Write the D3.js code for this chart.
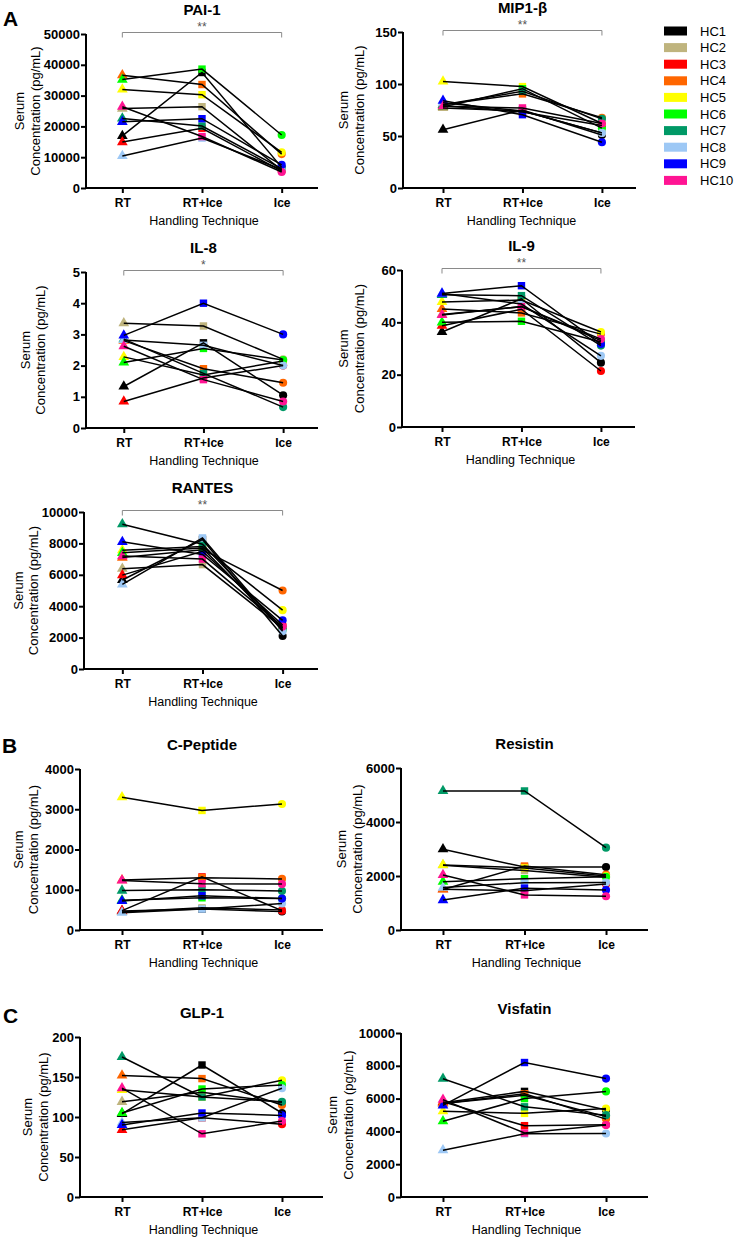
<!DOCTYPE html>
<html><head><meta charset="utf-8">
<script src="https://cdn.jsdelivr.net/npm/d3@7"></script>
<style>body{margin:0;background:#fff}svg{display:block}</style>
</head><body>
<svg id="chart" width="735" height="1240"></svg>
<script>
// ---------- data ----------
const subjects = ["HC1","HC2","HC3","HC4","HC5","HC6","HC7","HC8","HC9","HC10"];
const subjectColors = ["#000000","#BFB47E","#FF0000","#FF6600","#FFFF00","#00FF00","#009966","#9DC8F5","#0000FF","#FF1493"];
const conditions = ["RT","RT+Ice","Ice"];

const pai1RT    = [16900,25800,14900,36600,32000,35200,22600,10400,21500,26400];
const pai1RTIce = [37500,26400,19400,33600,30300,38600,20100,16200,22500,16700];
const pai1Ice   = [6700,5800,5500,11000,11600,17200,6300,6000,7500,5200];
const pai1Ticks = [0,10000,20000,30000,40000,50000];

const mipRT    = [56,77,79,80,102.5,78,80,82,84,78.5];
const mipRTIce = [75,74,73,90.5,97.5,95.5,93,74,70.5,77];
const mipIce   = [51,53,60,67.5,62,57.5,66.5,53,44,62];
const mipTicks = [0,50,100,150];

const il8RT    = [1.33,3.36,0.85,2.8,2.28,2.1,2.85,2.82,2.97,2.62];
const il8RTIce = [2.73,3.27,1.6,1.9,1.7,2.55,1.75,2.65,4.0,1.55];
const il8Ice   = [1.05,2.2,2.0,1.45,2.15,2.18,0.67,2.0,3.0,0.85];
const il8Ticks = [0,1,2,3,4,5];

const il9RT    = [36.3,43,38.7,45.1,47.8,40,50.5,51,51,42.8];
const il9RTIce = [49,46,45,43.6,48.5,40.4,50.2,47,54,46];
const il9Ice   = [24.6,33,21.4,35.5,36.3,32.5,31.1,27.2,31.7,33.6];
const il9Ticks = [0,20,40,60];

const rantesRT    = [5670,6390,5980,7100,7570,7400,9220,5390,8100,7190];
const rantesRTIce = [8250,6650,7500,7600,7800,7700,7950,8350,7300,7000];
const rantesIce   = [2100,2600,2800,5000,3750,2500,2600,2400,3100,2700];
const rantesTicks = [0,2000,4000,6000,8000,10000];

const cpepRT    = [470,450,480,1240,3300,740,980,430,720,1230];
const cpepRTIce = [520,550,1320,1300,2970,800,1000,520,850,1150];
const cpepIce   = [460,500,480,1270,3130,780,970,660,780,1140];
const cpepTicks = [0,1000,2000,3000,4000];

const resRT    = [2990,2400,1510,1500,2410,1790,5150,1570,1110,2040];
const resRTIce = [2330,2200,1450,2370,2300,1900,5150,1750,1550,1300];
const resIce   = [2330,1950,1700,2050,2000,1970,3050,1760,1480,1250];
const resTicks = [0,2000,4000,6000];

const glpRT    = [104,119,84,152,134,105,175,93,90,136];
const glpRTIce = [165,131,99,148,125,135,125,99,105,79];
const glpIce   = [105,118,91,115,146,140,119,136,102,95];
const glpTicks = [0,50,100,150,200];

const visRT    = [5750,5700,5800,5700,5230,4620,7210,2850,5590,5930];
const visRTIce = [6440,6200,4350,6300,5100,6000,5500,3850,8200,3900];
const visIce   = [5300,4900,4400,4750,5390,6440,4990,3870,7220,4390];
const visTicks = [0,2000,4000,6000,8000,10000];

// ---------- layout ----------
const panels = [
  {title:"PAI-1", series:[pai1RT,pai1RTIce,pai1Ice], ticks:pai1Ticks, sig:"**",
   x0:86, x1:318, pad:0.456, align:0.5, yB:188, yT:34, lab:[19,35]},
  {title:"MIP1-\u03B2", series:[mipRT,mipRTIce,mipIce], ticks:mipTicks, sig:"**",
   x0:403, x1:636, pad:0.466, align:0.54, yB:188, yT:32, lab:[343,359]},
  {title:"IL-8", series:[il8RT,il8RTIce,il8Ice], ticks:il8Ticks, sig:"*",
   x0:86, x1:318, pad:0.456, align:0.52, yB:428, yT:272, lab:[25,40]},
  {title:"IL-9", series:[il9RT,il9RTIce,il9Ice], ticks:il9Ticks, sig:"**",
   x0:402, x1:635, pad:0.466, align:0.54, yB:427, yT:270, lab:[343,359]},
  {title:"RANTES", series:[rantesRT,rantesRTIce,rantesIce], ticks:rantesTicks, sig:"**",
   x0:84, x1:318, pad:0.46, align:0.52, yB:669, yT:512, lab:[18,33]},
  {title:"C-Peptide", series:[cpepRT,cpepRTIce,cpepIce], ticks:cpepTicks, sig:null,
   x0:80, x1:323, pad:0.519, align:0.506, yB:930, yT:769, lab:[18,33]},
  {title:"Resistin", series:[resRT,resRTIce,resIce], ticks:resTicks, sig:null,
   x0:401, x1:648, pad:0.515, align:0.5, yB:930, yT:768, lab:[341,357]},
  {title:"GLP-1", series:[glpRT,glpRTIce,glpIce], ticks:glpTicks, sig:null,
   x0:80, x1:323, pad:0.519, align:0.506, yB:1197, yT:1037, lab:[27,43]},
  {title:"Visfatin", series:[visRT,visRTIce,visIce], ticks:visTicks, sig:null,
   x0:401, x1:648, pad:0.515, align:0.5, yB:1197, yT:1033, lab:[332,348]}
];

const FONT = "'Liberation Sans', Arial, sans-serif";
const svg = d3.select("#chart").style("font-family", FONT);
const shapes = [d3.symbolTriangle, d3.symbolSquare, d3.symbolCircle];
const shapeSize = [50, 55, 52];

panels.forEach(p => {
  const g = svg.append("g");
  const x = d3.scalePoint().domain(conditions).range([p.x0, p.x1]).padding(p.pad).align(p.align);
  const yMax = p.ticks[p.ticks.length - 1];
  const y = d3.scaleLinear().domain([0, yMax]).range([p.yB, p.yT]);

  // y axis
  const ya = g.append("g").attr("transform", `translate(${p.x0},0)`)
    .call(d3.axisLeft(y).tickValues(p.ticks).tickFormat(d3.format("d")).tickSize(5).tickSizeOuter(0).tickPadding(1));
  ya.select(".domain").attr("stroke-width", 2).attr("d", `M0,${p.yB + 1}V${p.yT}`);
  ya.selectAll(".tick line").attr("stroke-width", 2);
  ya.selectAll(".tick text").attr("font-size", 13).attr("font-weight", "bold").attr("font-family", FONT).attr("fill", "#000");

  // x axis
  const xa = g.append("g").attr("transform", `translate(0,${p.yB})`)
    .call(d3.axisBottom(x).tickSize(5).tickSizeOuter(0).tickPadding(5));
  xa.select(".domain").attr("stroke-width", 2).attr("d", `M${p.x0 - 1},0H${p.x1}`);
  xa.selectAll(".tick line").attr("stroke-width", 2);
  xa.selectAll(".tick text").attr("font-size", 12).attr("font-weight", "bold").attr("font-family", FONT).attr("fill", "#000");

  // axis titles
  g.append("text").attr("x", (p.x0 + p.x1) / 2 + 2).attr("y", p.yB + 37)
    .attr("text-anchor", "middle").attr("font-size", 12.5).text("Handling Technique");
  const ymid = (p.yB + p.yT) / 2;
  g.append("text").attr("transform", `translate(${p.lab[0]},${ymid}) rotate(-90)`)
    .attr("text-anchor", "middle").attr("dy", "0.35em").attr("font-size", 13).text("Serum");
  g.append("text").attr("transform", `translate(${p.lab[1]},${ymid}) rotate(-90)`)
    .attr("text-anchor", "middle").attr("dy", "0.35em").attr("font-size", 13).text("Concentration (pg/mL)");

  // title
  g.append("text").attr("x", x("RT+Ice")).attr("y", p.yT - 19)
    .attr("text-anchor", "middle").attr("font-size", 15).attr("font-weight", "bold").text(p.title);

  // significance bracket
  if (p.sig) {
    const by = p.yT - 1.5;
    const xa0 = x("RT"), xa1 = x("Ice");
    g.append("path").attr("d", `M${xa0},${by + 5}V${by}H${xa1}V${by + 5}`)
      .attr("fill", "none").attr("stroke", "#8a8a8a").attr("stroke-width", 1);
    g.append("text").attr("x", (xa0 + xa1) / 2).attr("y", by - 2)
      .attr("text-anchor", "middle").attr("font-size", 12).attr("fill", "#555").text(p.sig);
  }

  // data: markers then lines
  subjects.forEach((s, i) => {
    const pts = conditions.map((c, j) => [x(c), y(p.series[j][i])]);
    pts.forEach((pt, j) => {
      g.append("path").attr("d", d3.symbol().type(shapes[j]).size(shapeSize[j])())
        .attr("transform", `translate(${pt[0]},${pt[1]})`).attr("fill", subjectColors[i]);
    });
  });
  const line = d3.line();
  subjects.forEach((s, i) => {
    const pts = conditions.map((c, j) => [x(c), y(p.series[j][i])]);
    g.append("path").attr("d", line(pts)).attr("fill", "none").attr("stroke", "#000").attr("stroke-width", 1.5);
  });
});

// section letters
[["A", 3, 26], ["B", 2, 753], ["C", 3, 1023]].forEach(([t, lx, ly]) => {
  svg.append("text").attr("x", lx).attr("y", ly).attr("font-size", 21).attr("font-weight", "bold").text(t);
});

// legend
const leg = svg.append("g");
subjects.forEach((s, i) => {
  const ly = 31 + i * 16.6;
  leg.append("rect").attr("x", 664).attr("y", ly - 4.5).attr("width", 23).attr("height", 9).attr("fill", subjectColors[i]);
  leg.append("text").attr("x", 700).attr("y", ly).attr("dy", "0.35em").attr("font-size", 13).text(s);
});
</script>
</body></html>
